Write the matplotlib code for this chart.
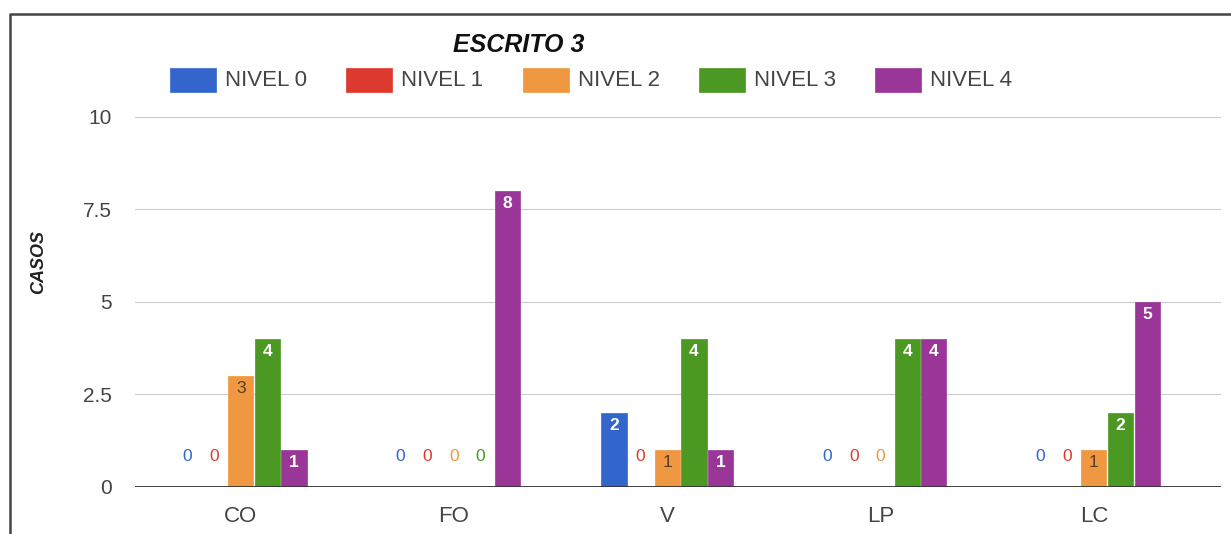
import matplotlib
matplotlib.use('Agg')
import matplotlib.pyplot as plt
from matplotlib.patches import Rectangle
from matplotlib.lines import Line2D
import numpy as np

categories = ["CO", "FO", "V", "LP", "LC"]
series_names = ["NIVEL 0", "NIVEL 1", "NIVEL 2", "NIVEL 3", "NIVEL 4"]
nivel0 = [0, 0, 2, 0, 0]
nivel1 = [0, 0, 0, 0, 0]
nivel2 = [3, 0, 1, 0, 1]
nivel3 = [4, 0, 4, 4, 2]
nivel4 = [1, 8, 1, 4, 5]
yticks = [0, 2.5, 5, 7.5, 10]
ytick_labels = ["0", "2.5", "5", "7.5", "10"]
title = "ESCRITO 3"
ylabel = "CASOS"

series = [nivel0, nivel1, nivel2, nivel3, nivel4]
colors = ["#3366cc", "#dc3a2f", "#ef9741", "#4b9822", "#9a3697"]
inside_colors = ["white", "white", "#5a4020", "white", "white"]
inside_weight = ["bold", "bold", "normal", "bold", "bold"]

plt.rcParams['font.family'] = ['Liberation Sans', 'DejaVu Sans']

W, H = 1231, 534
fig = plt.figure(figsize=(W / 100, H / 100), dpi=100)

def fx(px):
    return px / W

def fy(py):
    return 1 - py / H

ax = fig.add_axes([fx(135), fy(486.7), fx(1221) - fx(135), fy(116.7) - fy(486.7)])

x = np.arange(len(categories))
step = 0.125
bw = 0.118
for j, vals in enumerate(series):
    pos = x + (j - 2) * step
    bars = ax.bar(pos, vals, width=bw, color=colors[j], zorder=3,
                  edgecolor=colors[j], linewidth=0.5)
    for xp, v in zip(pos, vals):
        if v == 0:
            ax.annotate(str(v), (xp, 0), xytext=(0, 21.6), textcoords='offset points',
                        ha='center', va='center', fontsize=12.5, color=colors[j], zorder=4)
        else:
            ax.annotate(str(v), (xp, v), xytext=(0, -9.5), textcoords='offset points',
                        ha='center', va='center', fontsize=12.5, color=inside_colors[j],
                        fontweight=inside_weight[j], zorder=4)

ax.set_xlim(-0.4955, 4.596)
ax.set_ylim(0, 10)
ax.set_yticks(yticks)
ax.set_yticklabels(ytick_labels)
ax.set_xticks(x)
ax.set_xticklabels(categories)
ax.tick_params(axis='y', length=0, pad=16.5, labelsize=15, labelcolor='#444444')
ax.tick_params(axis='x', length=0, pad=14, labelsize=16, labelcolor='#444444')
for s in ax.spines.values():
    s.set_visible(False)
ax.grid(axis='y', color='#cccccc', linewidth=0.8, zorder=0)
ax.set_axisbelow(True)
ax.axhline(0, color='#333333', linewidth=1.3, zorder=5)

# Title and y label
fig.text(fx(453), fy(52), title, fontsize=18, fontweight='bold', fontstyle='italic',
         color='#111111', ha='left', va='baseline')
fig.text(fx(39), fy(262), ylabel, fontsize=13, fontweight='bold', fontstyle='italic',
         color='#222222', rotation=90, ha='center', va='center')

# Legend
lx0 = 170
lstep = 176.25
for i, name in enumerate(series_names):
    bx = lx0 + i * lstep
    fig.add_artist(Rectangle((fx(bx), fy(92)), fx(46), fy(68) - fy(92),
                             transform=fig.transFigure, facecolor=colors[i],
                             edgecolor=colors[i], linewidth=0.5))
    fig.text(fx(bx + 55), fy(80.5), name, fontsize=16, color='#444444',
             ha='left', va='center')

# Frame
fig.add_artist(Line2D([fx(10), fx(10), fx(1231)], [fy(534), fy(14), fy(14)],
                      transform=fig.transFigure, color='#444444', linewidth=1.8))

fig.savefig('out.png', dpi=100)
